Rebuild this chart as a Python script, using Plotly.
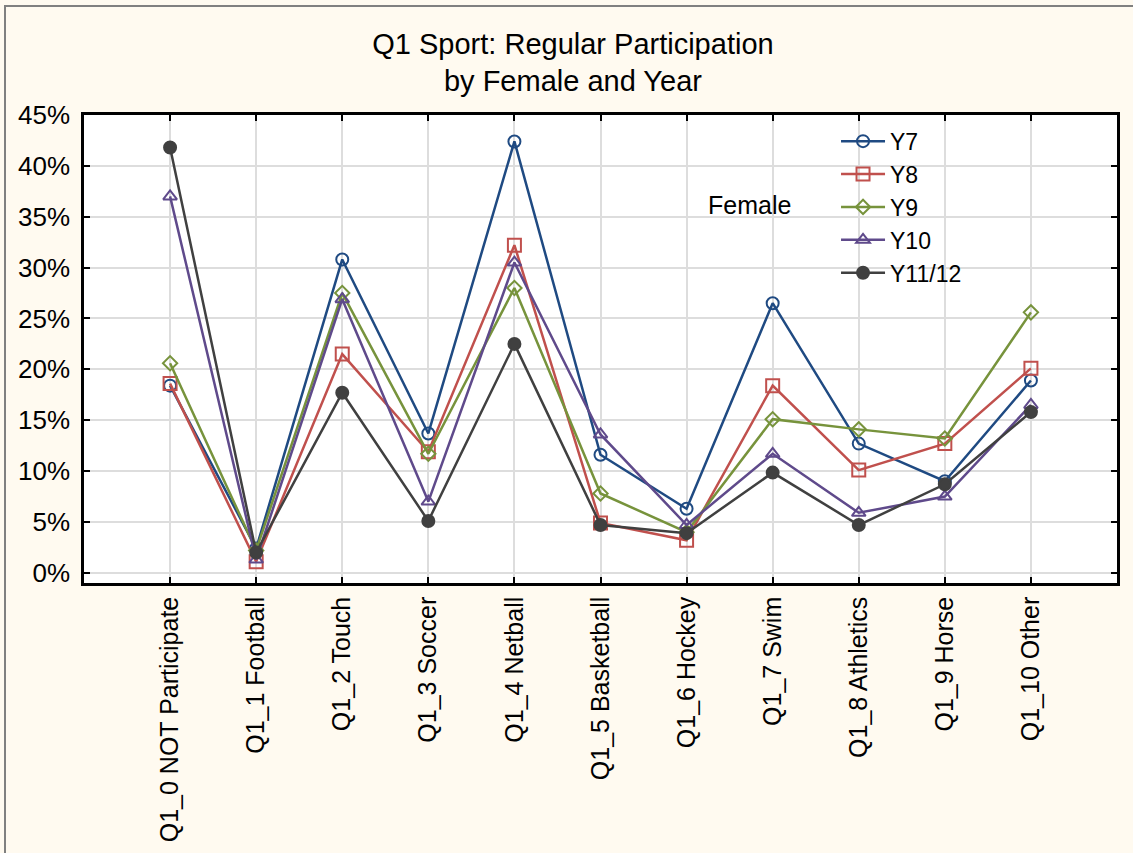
import plotly.graph_objects as go

categories = ["Q1_0 NOT Participate", "Q1_1 Football", "Q1_2 Touch", "Q1_3 Soccer",
              "Q1_4 Netball", "Q1_5 Basketball", "Q1_6 Hockey", "Q1_7 Swim",
              "Q1_8 Athletics", "Q1_9 Horse", "Q1_10 Other"]

y7 = [18.4, 2.4, 30.8, 13.7, 42.4, 11.6, 6.3, 26.5, 12.7, 9.0, 18.9]
y8 = [18.6, 1.1, 21.5, 11.9, 32.2, 4.9, 3.2, 18.4, 10.1, 12.7, 20.1]
y9 = [20.6, 2.2, 27.5, 11.7, 28.0, 7.8, 4.0, 15.1, 14.1, 13.2, 25.6]
y10 = [37.0, 1.3, 26.9, 7.0, 30.5, 13.6, 4.7, 11.7, 5.9, 7.5, 16.5]
y11_12 = [41.8, 2.0, 17.7, 5.1, 22.5, 4.7, 3.9, 9.85, 4.7, 8.7, 15.8]

series_names = ["Y7", "Y8", "Y9", "Y10", "Y11/12"]
series_values = [y7, y8, y9, y10, y11_12]
colors = ["#1F4A82", "#C0504D", "#77933C", "#5F4A8B", "#404040"]
symbols = ["circle-open", "square-open", "diamond-open", "triangle-up-open", "circle"]
sizes = [12, 13, 11, 12, 12]

y_ticks = [0, 5, 10, 15, 20, 25, 30, 35, 40, 45]

fig = go.Figure()
for name, vals, c, s, sz in zip(series_names, series_values, colors, symbols, sizes):
    fig.add_trace(go.Scatter(
        x=categories, y=vals, name=name, mode="lines+markers",
        line=dict(color=c, width=2.5),
        marker=dict(symbol=s, size=sz, color=c, line=dict(color=c, width=2)),
    ))

FONT = "Liberation Sans, Arial, sans-serif"

fig.update_layout(
    width=1133, height=853,
    margin=dict(l=84, r=16, t=115, b=270),
    paper_bgcolor="#FFFAF0",
    plot_bgcolor="#FFFFFF",
    font=dict(family=FONT, color="#000000"),
    title=dict(text="Q1 Sport: Regular Participation<br>by Female and Year",
               x=0.5057, xref="container", xanchor="center",
               y=1 - 53.5 / 853, yref="container", yanchor="middle",
               font=dict(size=29, family=FONT, color="#000000")),
    showlegend=True,
    legend=dict(x=0.728, y=0.99, xanchor="left", yanchor="top",
                bgcolor="rgba(0,0,0,0)", font=dict(size=23, family=FONT),
                tracegroupgap=0, itemwidth=44),
    annotations=[dict(text="Female", x=0.6447, y=0.8077, xref="paper", yref="paper",
                      showarrow=False, xanchor="center", yanchor="middle",
                      font=dict(size=25, family=FONT, color="#000000"))],
    shapes=[dict(type="rect", xref="paper", yref="paper",
                 x0=(5 - 84) / 1033, x1=(1160 - 84) / 1033,
                 y0=(583 - 880) / 468, y1=(583 - 6) / 468,
                 line=dict(color="#808080", width=2), fillcolor="rgba(0,0,0,0)",
                 layer="below")],
)

fig.update_xaxes(
    type="category", range=[-1, 11],
    tickangle=-90, tickfont=dict(size=25, family=FONT),
    showgrid=True, gridcolor="#DDDDDD", gridwidth=1.5,
    showline=True, linecolor="#000000", linewidth=2.5, mirror="allticks",
    ticks="inside", ticklen=6, tickwidth=2, tickcolor="#000000",
    ticklabelstandoff=1,
)
fig.update_yaxes(
    range=[-1, 45], tickvals=y_ticks, ticktext=[f"{v}%" for v in y_ticks],
    tickfont=dict(size=26, family=FONT),
    showgrid=True, gridcolor="#DDDDDD", gridwidth=1.5, zeroline=False,
    showline=True, linecolor="#000000", linewidth=2.5, mirror="allticks",
    ticks="inside", ticklen=6, tickwidth=2, tickcolor="#000000",
    ticklabelstandoff=6,
)

fig.write_html("out.html", config={"displayModeBar": False},
               post_script="document.body.style.margin='0';document.body.style.padding='0';")
